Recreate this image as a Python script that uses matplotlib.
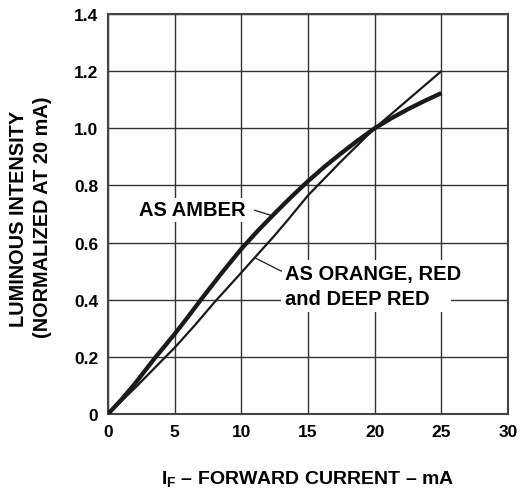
import matplotlib
matplotlib.use("Agg")
import matplotlib.pyplot as plt

plt.rcParams['font.family'] = ['Liberation Sans', 'DejaVu Sans']
plt.rcParams['font.weight'] = 'bold'
plt.rcParams['mathtext.fontset'] = 'custom'
plt.rcParams['mathtext.rm'] = 'Liberation Sans:bold'
plt.rcParams['mathtext.bf'] = 'Liberation Sans:bold'
plt.rcParams['mathtext.it'] = 'Liberation Sans:bold'

# Data
amber_current = [0, 1, 2, 3.5, 5, 6, 7, 8.5, 10, 11.25, 12.5, 13.75, 15, 16.25, 17.5,
                 18.75, 20, 21.25, 22.5, 23.75, 25]
amber_intensity = [0, 0.05, 0.105, 0.195, 0.28, 0.34, 0.402, 0.492, 0.578, 0.642, 0.702,
                   0.76, 0.815, 0.866, 0.913, 0.958, 1.0, 1.035, 1.067, 1.096, 1.123]

red_current = [0, 2, 4, 5, 6.5, 8, 10, 12.5, 13.5, 15, 17.5, 20, 22.5, 25]
red_intensity = [0, 0.09, 0.185, 0.232, 0.31, 0.392, 0.495, 0.625, 0.68, 0.765,
                 0.885, 1.0, 1.1, 1.2]

x_ticks = [0, 5, 10, 15, 20, 25, 30]
y_ticks = [0, 0.2, 0.4, 0.6, 0.8, 1.0, 1.2, 1.4]
y_tick_labels = ['0', '0.2', '0.4', '0.6', '0.8', '1.0', '1.2', '1.4']
y_label_lines = ['LUMINOUS INTENSITY', '(NORMALIZED AT 20 mA)']

fig = plt.figure(figsize=(5.24, 4.89), dpi=100)
ax = fig.add_axes([108/524, 74/489, 400/524, 400/489])

ax.set_xlim(0, 30)
ax.set_ylim(0, 1.4)
ax.set_xticks(x_ticks)
ax.set_yticks(y_ticks)
ax.set_xticklabels([str(t) for t in x_ticks])
ax.set_yticklabels(y_tick_labels)
ax.tick_params(length=0, labelsize=12.5, pad=7)
for lab in ax.get_xticklabels() + ax.get_yticklabels():
    lab.set_fontweight('bold')

ax.grid(True, color='#333333', linewidth=1.0)
ax.set_axisbelow(True)
for s in ax.spines.values():
    s.set_color('#444444')
    s.set_linewidth(1.5)

ax.plot(red_current, red_intensity, color='#1a1a1a', linewidth=1.6,
        solid_joinstyle='round', solid_capstyle='butt', zorder=3)
ax.plot(amber_current, amber_intensity, color='#1a1a1a', linewidth=3.1,
        solid_joinstyle='round', solid_capstyle='butt', zorder=3)

# annotations
ax.text(2.35, 0.714, 'AS AMBER', fontsize=14.5, fontweight='bold', va='center', ha='left',
        bbox=dict(facecolor='white', edgecolor='none', pad=2), zorder=4)
ax.plot([11.0, 12.25], [0.713, 0.695], color='#1a1a1a', linewidth=0.9, zorder=4)

ax.text(13.3, 0.492, 'AS ORANGE, RED', fontsize=14.5, fontweight='bold',
        va='center', ha='left',
        bbox=dict(facecolor='white', edgecolor='none', pad=3), zorder=4)
ax.text(13.3, 0.405, 'and DEEP RED   ', fontsize=14.5, fontweight='bold',
        va='center', ha='left',
        bbox=dict(facecolor='white', edgecolor='none', pad=3), zorder=4)
ax.plot([11.0, 13.0], [0.547, 0.50], color='#1a1a1a', linewidth=0.9, zorder=5)

ax.set_xlabel(r'I$_{\mathrm{F}}$ – FORWARD CURRENT – mA', fontsize=14, fontweight='bold', labelpad=21)

fig.text(18.5/524, 1 - 219/489, y_label_lines[0], rotation=90, fontsize=14.3,
         fontweight='bold', ha='center', va='center')
fig.text(42.5/524, 1 - 217/489, y_label_lines[1], rotation=90, fontsize=14.3,
         fontweight='bold', ha='center', va='center')

fig.savefig('out.png', dpi=100)
